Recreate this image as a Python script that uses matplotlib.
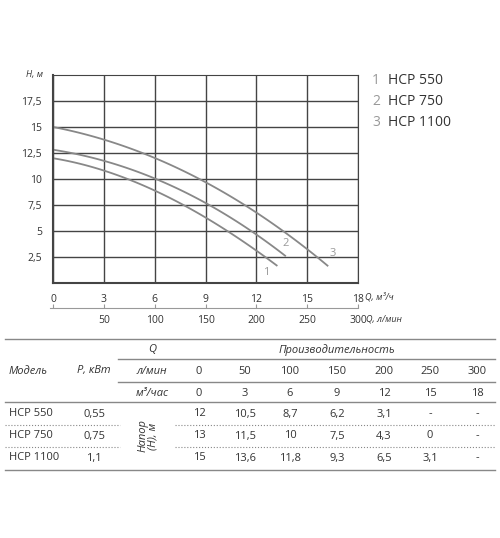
import numpy as np
import matplotlib.pyplot as plt
from matplotlib.lines import Line2D

plt.rcParams['font.family'] = ['Open Sans', 'DejaVu Sans']

# curves (Q, m3/h -> H, m)
q1 = [0, 3, 6, 9, 12, 13.2]
h1 = [12, 10.8, 8.9, 6.3, 3.1, 1.7]
q2 = [0, 3, 6, 9, 12, 13.7]
h2 = [12.8, 11.8, 10, 7.7, 4.7, 2.6]
q3 = [0, 3, 6, 9, 12, 15, 16.2]
h3 = [15, 13.8, 12, 9.7, 6.8, 3.2, 1.7]
models = ['HCP 550', 'HCP 750', 'HCP 1100']
power = ['0,55', '0,75', '1,1']
flow_lmin = ['0', '50', '100', '150', '200', '250', '300']
flow_m3h = ['0', '3', '6', '9', '12', '15', '18']
head_table = [['12', '10,5', '8,7', '6,2', '3,1', '-', '-'],
              ['13', '11,5', '10', '7,5', '4,3', '0', '-'],
              ['15', '13,6', '11,8', '9,3', '6,5', '3,1', '-']]

W, H = 500, 538
fig = plt.figure(figsize=(W / 100, H / 100), dpi=100)

def fx(x):
    return x / W

def fy(y):
    return 1 - y / H

ax = fig.add_axes([fx(53), fy(283), fx(358) - fx(53), fy(75) - fy(283)])
for q, h in [(q1, h1), (q2, h2), (q3, h3)]:
    # smooth curve through the read points
    qq = np.linspace(q[0], q[-1], 100)
    c = np.polyfit(q, h, 3)
    ax.plot(qq, np.polyval(c, qq), color='#888888', lw=1.3)
ax.text(12.6, 1.0, '1', color='#999999', fontsize=8, ha='center', va='center')
ax.text(13.7, 3.8, '2', color='#999999', fontsize=8, ha='center', va='center')
ax.text(16.5, 2.8, '3', color='#999999', fontsize=8, ha='center', va='center')
ax.set_xlim(0, 18)
ax.set_ylim(0, 20)
ax.set_xticks(range(0, 19, 3))
ax.set_yticks([2.5, 5, 7.5, 10, 12.5, 15, 17.5])
ax.set_yticklabels(['2,5', '5', '7,5', '10', '12,5', '15', '17,5'])
ax.grid(color='#444444', lw=1)
for s in ax.spines.values():
    s.set_color('#444444')
ax.spines['left'].set_linewidth(1.5)
ax.spines['bottom'].set_linewidth(1.5)
ax.tick_params(length=0, labelsize=7.5, colors='#333333', pad=8)
ax.set_xticklabels(flow_m3h)
ax.text(-0.6, 20, 'H, м', fontsize=6.5, style='italic', ha='right', va='center', color='#333333')
ax.text(18.4, -1.3, 'Q, м³/ч', fontsize=6.5, style='italic', ha='left', va='center', color='#333333')

# secondary l/min axis
ax2 = fig.add_axes([fx(53) - fx(3), fy(308), fx(358) - fx(53) + fx(3), 0.001])
ax2.set_xlim(-18 * 3 / 305, 18)
ax2.set_ylim(0, 1)
for s in ['top', 'left', 'right']:
    ax2.spines[s].set_visible(False)
ax2.spines['bottom'].set_color('#999999')
ax2.set_yticks([])
ax2.set_xticks([0, 3, 6, 9, 12, 15, 18])
ax2.set_xticklabels([''] + flow_lmin[1:])
ax2.tick_params(direction='in', length=3, color='#999999', labelsize=7.5, labelcolor='#333333', pad=5)
fig.text(fx(366), fy(319), 'Q, л/мин', fontsize=6.5, style='italic', va='center', color='#333333')

# legend
for i, m in enumerate(models):
    fig.text(fx(372), fy(80 + 21.5 * i), str(i + 1), fontsize=10, color='#999999', va='center')
    fig.text(fx(388), fy(80 + 21.5 * i), m, fontsize=10, color='#333333', va='center')

# table
def hline(y, x0=5, x1=495, **kw):
    fig.add_artist(Line2D([fx(x0), fx(x1)], [fy(y), fy(y)], **kw))

hline(339, color='#888888', lw=1)
hline(359, x0=118, color='#888888', lw=1)
hline(382, x0=118, color='#888888', lw=1)
hline(402, color='#888888', lw=1)
hline(425, x0=5, x1=120, color='#888888', lw=0.8, ls=':')
hline(425, x0=175, color='#888888', lw=0.8, ls=':')
hline(447, x0=5, x1=120, color='#888888', lw=0.8, ls=':')
hline(447, x0=175, color='#888888', lw=0.8, ls=':')
hline(470, color='#888888', lw=1)

tk = dict(fontsize=8, color='#333333', va='center')
it = dict(tk, style='italic')
fig.text(fx(9), fy(371), 'Модель', **it)
fig.text(fx(94), fy(371), 'P, кВт', ha='center', **it)
fig.text(fx(152), fy(350), 'Q', ha='center', **it)
fig.text(fx(152), fy(371), 'л/мин', ha='center', **it)
fig.text(fx(152), fy(393), 'м³/час', ha='center', **it)
fig.text(fx(337), fy(350), 'Производительность', ha='center', **it)
cols = [199, 245, 290, 337, 384, 430, 477]
for x, a, b in zip(cols, flow_lmin, flow_m3h):
    fig.text(fx(x), fy(371), a, ha='center', **tk)
    fig.text(fx(x), fy(393), b, ha='center', **tk)
rows = [414, 436, 458]
for y, m, p, vals in zip(rows, models, power, head_table):
    fig.text(fx(9), fy(y), m, **tk)
    fig.text(fx(94), fy(y), p, ha='center', **tk)
    for x, v in zip(cols, vals):
        fig.text(fx(x), fy(y), v, ha='center', **tk)
fig.text(fx(148), fy(436), 'Напор\n(H), м', ha='center', rotation=90, linespacing=0.9, **it)

fig.savefig('out.png', dpi=100)
